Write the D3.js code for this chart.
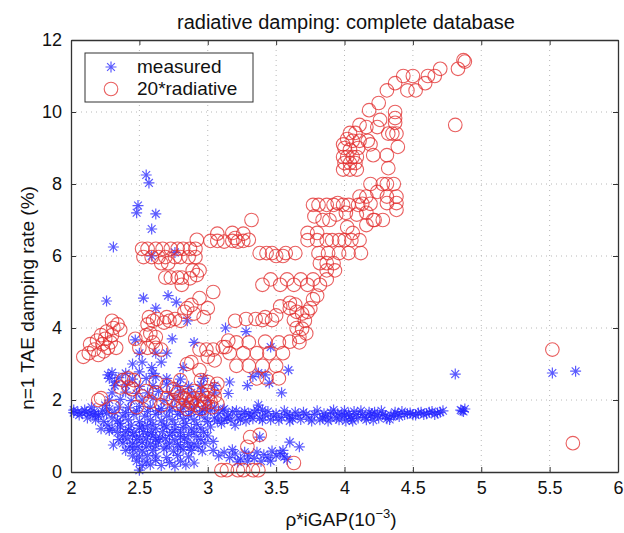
<!DOCTYPE html>
<html><head><meta charset="utf-8">
<script src="https://cdnjs.cloudflare.com/ajax/libs/d3/7.8.5/d3.min.js"></script>
<style>body{margin:0;background:#fff}svg{display:block}text{font-family:"Liberation Sans",Arial,sans-serif}</style>
</head><body><svg id="c" width="624" height="533"></svg>
<script>
const xTicks = [2, 2.5, 3, 3.5, 4, 4.5, 5, 5.5, 6];
const yTicks = [0, 2, 4, 6, 8, 10, 12];
const seriesNames = ["measured", "20*radiative"];

// measured damping (x = rho*iGAP, y = %)
const measured = [
[2.55,8.25],[2.57,8.03],[2.49,7.4],[2.48,7.2],[2.62,7.17],[2.59,6.75],[2.31,6.25],[2.59,6.0],[2.76,6.1],
[2.26,4.75],[2.53,4.83],[2.71,4.9],[2.77,4.72],[2.62,4.55],[2.85,4.2],[3.13,4.0],[2.47,3.67],[2.74,3.7],
[3.46,3.47],[3.28,3.9],[3.59,2.83],[3.54,2.2],[2.52,3.05],[2.59,2.9],[2.66,3.05],[2.27,2.7],[2.32,2.5],
[2.82,2.9],[2.97,2.6],[3.16,2.5],[3.29,2.4],[3.33,2.65],[3.42,2.7],[3.45,2.47],[3.37,1.86],[3.4,1.72],
[2.31,0.75],[2.38,0.8],[2.5,0.05],[3.6,0.83],[3.67,0.7],[3.38,0.97],[4.81,2.72],[5.52,2.75],[5.69,2.8],
[4.86,1.7],[4.88,1.75],[4.87,1.68],[4.85,1.72],
[2.02,1.65],[2.05,1.67],[2.08,1.64],[2.11,1.66],[2.14,1.63],[2.17,1.68],[2.2,1.6],[2.23,1.7],[2.12,1.5],
[2.18,1.45],[2.24,1.4],[2.2,1.55],[2.27,1.3],[2.22,1.2],[2.28,1.15],
[2.15,1.8],[2.25,1.85],[2.35,1.8],[2.42,1.78],[2.5,1.82],[2.58,1.8],[2.66,1.76],[2.74,1.8],[2.82,1.78],[2.9,1.8],[2.98,1.76],[3.05,1.8],[3.12,1.75],
[2.28,2.0],[2.36,2.02],[2.44,1.98],[2.52,2.0],[2.6,2.05],[2.68,1.98],[2.76,2.02],[2.84,1.96],[2.92,2.0],[3.0,1.98],
[2.3,2.2],[2.4,2.22],[2.48,2.18],[2.56,2.2],[2.64,2.24],[2.72,2.18],[2.8,2.22],[2.88,2.2],[2.96,2.24],[3.05,2.2],[3.15,2.18],
[2.32,2.4],[2.4,2.42],[2.5,2.38],[2.6,2.4],[2.7,2.44],[2.78,2.4],[2.86,2.38],[2.95,2.42],[3.05,2.4],
[2.28,2.6],[2.35,2.62],[2.45,2.58],[2.55,2.6],[2.62,2.64],[2.7,2.6],[2.8,2.58],
[2.3,2.76],[2.4,2.74],[2.5,2.78],[2.6,2.74],[3.37,2.75],
[2.45,3.0],[2.7,3.3],[2.62,3.3],[2.5,3.3],[2.9,3.6],
[2.3,1.5],[2.34,1.42],[2.38,1.55],[2.42,1.45],[2.46,1.6],[2.5,1.4],[2.54,1.55],[2.58,1.45],[2.62,1.6],[2.66,1.42],[2.7,1.55],[2.74,1.45],[2.78,1.6],[2.82,1.48],[2.86,1.56],[2.9,1.45],[2.94,1.6],[2.98,1.5],
[2.3,1.2],[2.36,1.25],[2.42,1.18],[2.5,1.22],[2.56,1.28],[2.62,1.2],[2.7,1.25],[2.76,1.18],[2.82,1.24],[2.88,1.2],[2.95,1.22],[3.02,1.25],
[2.38,1.0],[2.45,1.02],[2.5,0.98],[2.56,1.05],[2.6,1.0],[2.65,0.96],[2.72,1.02],[2.8,0.98],[2.86,1.04],[2.92,0.98],[3.0,1.0],
[2.45,0.8],[2.52,0.82],[2.58,0.78],[2.64,0.84],[2.72,0.8],[2.78,0.76],[2.85,0.82],[2.9,0.78],[2.98,0.8],[3.04,0.85],
[2.4,0.6],[2.46,0.62],[2.52,0.58],[2.6,0.6],[2.68,0.64],[2.75,0.58],[2.82,0.62],[2.88,0.6],[2.96,0.58],
[2.45,0.45],[2.5,0.42],[2.56,0.46],[2.62,0.44],[2.7,0.4],[2.78,0.46],[2.86,0.42],
[2.48,0.3],[2.55,0.28],[2.62,0.32],[2.72,0.26],[2.8,0.3],[2.9,0.25],
[3.04,0.6],[3.08,0.45],[3.12,0.55],[3.16,0.4],[3.2,0.5],[3.24,0.36],[3.27,0.55],[3.3,0.45],[3.34,0.38],[3.36,0.55],
[3.41,0.48],[3.44,0.4],[3.47,0.58],[3.5,0.45],[3.53,0.52],[3.56,0.42],
[3.05,1.5],[3.08,1.62],[3.12,1.45],[3.15,1.58],[3.18,1.68],[3.22,1.5],[3.25,1.6],[3.28,1.42],[3.31,1.55],[3.34,1.65],
[3.38,1.5],[3.42,1.58],[3.46,1.45],[3.5,1.62],[3.54,1.52],[3.58,1.6],[3.62,1.48],[3.66,1.58],[3.7,1.66],[3.74,1.5],
[3.78,1.6],[3.82,1.45],[3.86,1.55],[3.9,1.65],[3.94,1.5],[3.98,1.6],[4.01,1.42],[4.04,1.55],[4.07,1.68],[4.1,1.5],
[4.13,1.6],[4.16,1.45],[4.19,1.56],[4.22,1.66],[4.25,1.5],[4.28,1.6],[4.31,1.48],[4.34,1.58],[4.37,1.66],[4.4,1.54],
[4.44,1.6],[4.48,1.64],[4.52,1.58],[4.56,1.66],[4.6,1.62],[4.64,1.68],[4.68,1.64],[4.72,1.7],
[3.9,1.5],[3.95,1.62],[4.0,1.56],[4.05,1.48],[4.2,1.62],[3.85,1.62],[3.6,1.56],[3.3,1.62],[3.1,1.35],[3.2,1.3],
[3.02,1.7],[3.07,1.42],[3.11,1.72],[3.14,1.5],[3.17,1.44],[3.21,1.7],[3.24,1.45],[3.27,1.68],[3.33,1.48],[3.36,1.72],
[3.4,1.44],[3.44,1.68],[3.48,1.55],[3.52,1.44],[3.56,1.7],[3.6,1.42],[3.64,1.66],[3.68,1.46],[3.72,1.6],[3.76,1.42],
[3.8,1.7],[3.84,1.5],[3.88,1.42],[3.92,1.72],[3.96,1.45],[4.0,1.7],[4.03,1.62],[4.06,1.42],[4.09,1.6],[4.12,1.7],
[4.15,1.52],[4.18,1.66],[4.21,1.44],[4.24,1.58],[4.27,1.7],[4.3,1.56],[4.33,1.46],[4.36,1.56],[4.39,1.62],[4.42,1.68],
[4.46,1.62],[4.5,1.6],[4.54,1.64],[4.58,1.6],[4.62,1.66],[4.66,1.6],[4.7,1.66],
[2.02,1.72],[2.06,1.58],[2.1,1.72],[2.16,1.58],[2.26,1.62],[2.28,1.75],[2.32,1.65],[2.36,1.35],[2.4,1.65],[2.44,1.3],
[2.48,1.7],[2.52,1.28],[2.56,1.68],[2.6,1.32],[2.64,1.7],[2.68,1.3],[2.72,1.7],[2.76,1.32],[2.8,1.68],[2.84,1.35],
[2.88,1.68],[2.92,1.32],[2.96,1.7],[3.0,1.4],
[2.34,1.1],[2.4,1.12],[2.46,1.1],[2.53,1.12],[2.59,1.1],[2.67,1.12],[2.74,1.1],[2.8,1.1],[2.9,1.1],[2.97,1.1],
[2.35,0.9],[2.41,0.92],[2.48,0.9],[2.55,0.92],[2.62,0.9],[2.69,0.92],[2.76,0.9],[2.83,0.92],[2.95,0.9],
[2.43,0.7],[2.49,0.7],[2.55,0.7],[2.62,0.72],[2.7,0.7],[2.8,0.7],[2.87,0.7],[2.93,0.7],
[2.52,0.18],[2.58,0.2],[2.66,0.18],[2.76,0.16],[2.84,0.2],
[3.18,0.62],[3.22,0.28],[3.29,0.3],[3.39,0.3],[3.46,0.3],[3.55,0.6],[3.58,0.35]
];

// 20 * radiative damping
const radiative = [
[2.09,3.2],[2.13,3.3],[2.17,3.4],[2.2,3.25],[2.24,3.35],[2.14,3.55],[2.19,3.65],[2.23,3.55],[2.27,3.45],[2.22,3.8],
[2.26,3.9],[2.3,3.8],[2.29,3.6],[2.33,3.45],[2.31,4.0],[2.34,4.1],[2.3,4.2],[2.36,3.95],[2.25,3.7],
[2.2,2.0],[2.22,2.05],[2.31,1.8],[2.38,2.55],[2.42,2.6],[2.46,2.55],[2.42,2.35],[2.36,2.35],[2.45,2.3],
[2.47,3.7],[2.5,3.45],[2.56,3.45],[2.62,3.45],[2.66,3.4],[2.6,3.6],[2.62,3.75],[2.55,3.8],[2.58,3.85],[2.56,4.1],
[2.6,4.2],[2.63,4.25],[2.68,4.15],[2.72,4.2],[2.76,4.25],[2.8,4.2],[2.57,4.3],[2.7,4.3],
[2.83,4.45],[2.85,4.55],[2.88,4.64],[2.9,4.4],[2.94,4.83],[2.97,4.3],[3.0,4.55],
[2.94,3.4],[2.99,3.4],[3.04,3.4],[3.0,3.2],[3.05,3.1],[2.85,3.0],[2.88,3.05],[2.94,2.83],[3.11,3.47],[3.13,3.47],
[2.62,2.5],[2.8,2.55],[2.95,2.55],[3.0,2.5],[3.07,2.45],[3.05,2.3],[2.7,2.4],[2.75,2.3],
[2.75,2.0],[2.78,1.9],[2.8,2.1],[2.82,1.85],[2.84,2.0],[2.86,2.15],[2.88,1.9],[2.9,2.05],[2.92,1.85],[2.94,2.0],
[2.96,2.15],[2.98,1.9],[3.0,2.05],[3.02,1.95],[3.05,2.1],[3.07,1.9],[2.85,1.75],[2.95,1.75],[3.03,1.8],[2.78,2.2],
[2.9,2.25],[3.0,2.25],[2.88,1.95],[2.97,1.95],[2.83,2.05],
[2.52,2.1],[2.58,1.95],[2.62,2.2],[2.66,1.85],[2.7,2.05],[2.48,1.8],[2.55,2.25],
[2.52,6.2],[2.56,6.2],[2.62,6.2],[2.67,6.2],[2.73,6.2],[2.78,6.2],[2.82,6.2],[2.87,6.2],[2.91,6.2],
[2.53,5.97],[2.59,5.97],[2.64,5.97],[2.69,5.97],[2.76,5.97],[2.8,5.97],[2.86,5.97],[2.91,5.97],
[2.92,6.45],[2.66,5.8],[2.71,5.8],[2.69,5.4],[2.73,5.4],[2.78,5.4],[2.81,5.4],
[2.81,5.2],[2.89,5.6],[2.92,5.47],[2.94,5.6],[2.87,5.38],[3.04,5.0],
[3.02,6.42],[3.07,6.42],[3.12,6.4],[3.18,6.42],[3.22,6.4],[3.26,6.42],[3.3,6.45],[3.07,6.62],[3.18,6.64],[3.26,6.62],[3.32,7.0],[3.2,6.5],
[3.38,6.08],[3.43,6.08],[3.47,6.08],[3.57,6.08],[3.64,6.08],[3.81,6.08],[3.88,6.08],[3.96,6.08],[4.03,6.08],[4.12,6.08],[3.5,6.0],[3.55,6.0],
[3.82,5.8],[3.87,5.8],[3.92,5.8],[3.87,5.6],[3.93,5.6],
[3.4,5.2],[3.46,5.35],[3.53,5.2],[3.58,5.35],[3.63,5.2],[3.68,5.35],[3.73,5.2],[3.77,5.35],[3.82,5.2],[3.87,5.35],
[3.77,4.8],[3.8,4.9],[3.53,4.6],[3.6,4.55],[3.65,4.45],[3.69,4.4],[3.75,4.55],[3.6,4.7],[3.64,4.65],[3.73,4.45],[3.71,4.2],
[3.4,4.22],[3.47,4.22],[3.63,4.22],[3.65,4.0],[3.69,3.98],[3.72,3.85],[3.67,3.75],
[3.21,3.6],[3.3,3.6],[3.42,3.62],[3.52,3.6],[3.6,3.62],[3.67,3.6],
[3.16,3.3],[3.26,3.3],[3.36,3.3],[3.45,3.3],[3.55,3.3],
[3.21,2.95],[3.3,2.95],[3.4,2.95],[3.5,2.95],[3.43,2.6],[3.36,2.6],[3.52,2.6],
[3.2,4.2],[3.28,4.25],[3.35,4.25],[3.42,4.3],[3.5,4.35],[3.15,3.65],
[3.1,0.05],[3.14,0.05],[3.22,0.05],[3.26,0.05],[3.33,0.05],[3.37,0.05],[3.63,0.25],[3.31,0.97],[3.38,1.03],[3.29,0.7],
[5.52,3.4],[5.67,0.8],
[3.73,6.44],[3.8,6.44],[3.87,6.44],[3.91,6.44],[3.96,6.44],[4.0,6.44],[4.05,6.44],[4.11,6.44],
[3.73,6.64],[3.8,6.64],[4.06,6.64],[4.02,6.8],[4.16,6.86],[4.22,7.0],
[3.78,7.1],[3.84,7.0],[3.89,7.0],[3.94,7.15],[4.01,7.2],[4.09,7.15],[4.16,7.2],
[3.77,7.42],[3.81,7.42],[3.87,7.42],[3.92,7.42],[3.99,7.42],[4.03,7.42],[4.1,7.42],
[3.95,7.47],[4.19,7.45],[4.31,7.47],[4.38,7.47],[4.21,7.0],[4.28,7.0],[4.38,7.28],
[4.11,7.65],[4.16,7.65],[4.31,7.65],[4.38,7.65],[4.13,7.45],[4.24,7.78],
[4.19,8.0],[4.28,8.0],[4.31,8.0],[4.36,8.0],[4.32,8.44],[4.21,8.8],[4.31,8.8],
[3.99,8.4],[4.04,8.4],[4.09,8.4],[4.0,8.58],[4.04,8.58],[4.08,8.58],
[3.99,8.75],[4.02,8.75],[4.06,8.75],[4.09,8.75],[4.0,9.0],[4.04,8.95],[4.1,9.0],
[3.99,9.1],[4.02,9.25],[4.06,9.2],[4.11,9.2],[4.17,9.2],[4.19,9.1],[4.04,9.42],[4.08,9.42],
[4.32,9.4],[4.35,9.4],[4.38,9.4],[4.39,9.03],[4.11,9.64],[4.16,9.58],[4.24,9.58],[4.26,9.78],
[4.37,10.0],[4.37,9.83],[4.37,9.7],[4.18,10.05],[4.25,10.25],
[4.31,10.6],[4.46,10.6],[4.52,10.6],[4.37,10.8],[4.59,10.8],
[4.43,11.0],[4.5,11.0],[4.61,11.0],[4.66,11.0],[4.7,11.2],[4.83,11.2],[4.87,11.44],[4.88,11.4],[4.81,9.64]
];

const m = {left: 71, right: 618, top: 40, bottom: 472};
const svg = d3.select("#c");
const x = d3.scaleLinear().domain([2, 6]).range([m.left, m.right]);
const y = d3.scaleLinear().domain([0, 12]).range([m.bottom, m.top]);

// grid
const g = svg.append("g");
g.selectAll(".gx").data(xTicks.slice(1, -1)).enter().append("line")
  .attr("x1", d => x(d)).attr("x2", d => x(d)).attr("y1", m.top).attr("y2", m.bottom)
  .attr("stroke", "#b8b8b8").attr("stroke-width", 1).attr("stroke-dasharray", "1,4");
g.selectAll(".gy").data(yTicks.slice(1, -1)).enter().append("line")
  .attr("x1", m.left).attr("x2", m.right).attr("y1", d => y(d)).attr("y2", d => y(d))
  .attr("stroke", "#b8b8b8").attr("stroke-width", 1).attr("stroke-dasharray", "1,4");

// markers
const mg = svg.append("g");
function drawStar(sel) {
  sel.append("path").attr("d", "M-5.5,0H5.5M0,-5.5V5.5M-3.9,-3.9L3.9,3.9M-3.9,3.9L3.9,-3.9")
    .attr("stroke", "#2424ff").attr("stroke-width", 1.2).attr("fill", "none");
}
mg.selectAll("g.m").data(measured).enter().append("g")
  .attr("transform", d => `translate(${x(d[0])},${y(d[1])})`)
  .attr("opacity", 0.75).call(drawStar);
mg.selectAll("circle.r").data(radiative).enter().append("circle")
  .attr("cx", d => x(d[0])).attr("cy", d => y(d[1])).attr("r", 6.8)
  .attr("fill", "none").attr("stroke", "#e22a2a").attr("stroke-width", 1.1).attr("opacity", 0.75);

// axes (box with inward ticks)
const axB = d3.axisBottom(x).tickValues(xTicks).tickFormat(d3.format("")).tickSizeInner(-5).tickSizeOuter(0).tickPadding(9);
const axT = d3.axisTop(x).tickValues(xTicks).tickFormat("").tickSizeInner(-5).tickSizeOuter(0);
const axL = d3.axisLeft(y).tickValues(yTicks).tickFormat(d3.format("")).tickSizeInner(-5).tickSizeOuter(0).tickPadding(9);
const axR = d3.axisRight(y).tickValues(yTicks).tickFormat("").tickSizeInner(-5).tickSizeOuter(0);
function style(a) {
  a.select(".domain").attr("stroke", "#333").attr("stroke-width", 1.3);
  a.selectAll(".tick line").attr("stroke", "#333");
  a.selectAll("text").attr("fill", "#111").style("font-size", "18px").style("font-family", '"Liberation Sans", Arial, sans-serif');
}
svg.append("g").attr("transform", `translate(0,${m.bottom})`).call(axB).call(style);
svg.append("g").attr("transform", `translate(0,${m.top})`).call(axT).call(style);
svg.append("g").attr("transform", `translate(${m.left},0)`).call(axL).call(style);
svg.append("g").attr("transform", `translate(${m.right},0)`).call(axR).call(style);

// title and labels
svg.append("text").attr("x", 346).attr("y", 29).attr("text-anchor", "middle")
  .style("font-size", "20px").attr("fill", "#111").text("radiative damping: complete database");
const xl = svg.append("text").attr("x", 341).attr("y", 526).attr("text-anchor", "middle")
  .style("font-size", "19px").attr("fill", "#111");
xl.append("tspan").text("ρ*iGAP(10");
xl.append("tspan").attr("dy", -8).style("font-size", "13px").text("−3");
xl.append("tspan").attr("dy", 8).text(")");
svg.append("text").attr("transform", "translate(34,298) rotate(-90)").attr("text-anchor", "middle")
  .style("font-size", "19px").attr("fill", "#111").text("n=1 TAE damping rate (%)");

// legend
const lg = svg.append("g");
lg.append("rect").attr("x", 85).attr("y", 53).attr("width", 168).attr("height", 49)
  .attr("fill", "#fff").attr("stroke", "#333").attr("stroke-width", 1);
const legItems = [{name: seriesNames[0], yy: 67}, {name: seriesNames[1], yy: 89}];
lg.append("g").attr("transform", `translate(111,${legItems[0].yy})`).attr("opacity", 0.75).call(drawStar);
lg.append("circle").attr("cx", 111).attr("cy", legItems[1].yy).attr("r", 6.8).attr("fill", "none")
  .attr("stroke", "#e22a2a").attr("stroke-width", 1.1).attr("opacity", 0.75);
lg.selectAll("text.l").data(legItems).enter().append("text").attr("x", 137).attr("y", d => d.yy + 6)
  .style("font-size", "19px").attr("fill", "#111").text(d => d.name);
</script></body></html>
